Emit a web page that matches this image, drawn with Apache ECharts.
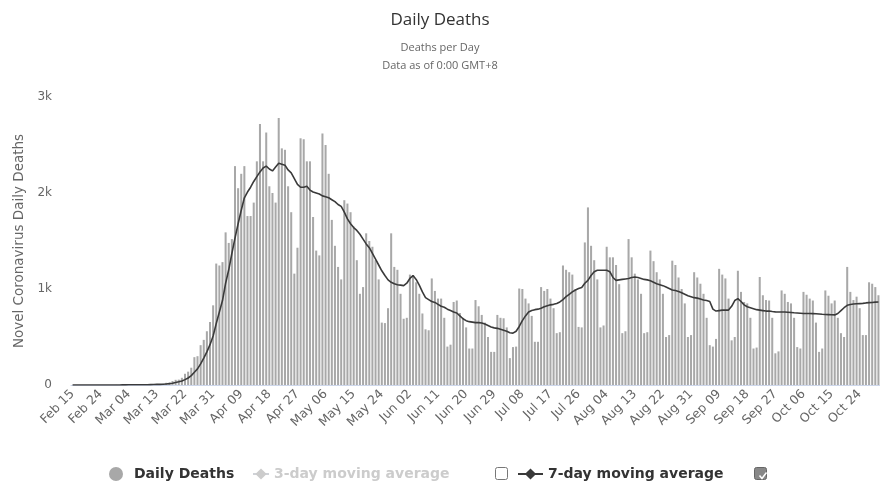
<!DOCTYPE html>
<html>
<head>
<meta charset="utf-8">
<title>Daily Deaths</title>
<script src="https://cdn.jsdelivr.net/npm/echarts@6/dist/echarts.min.js"></script>
<style>
  html, body { margin: 0; padding: 0; background: #fff; }
  #chart { width: 880px; height: 490px; }
</style>
</head>
<body>
<div id="chart"></div>
<script>
// daily deaths (Feb 15 -> Oct 30)
const febDeaths = [0, 0, 0, 0, 0, 0, 0, 0, 0, 0, 0, 0, 0, 0, 1];
const marDeaths = [0, 5, 1, 4, 1, 2, 3, 4, 4, 5, 8, 7, 11, 10, 12, 23, 26, 41, 54, 56, 75, 117, 139, 180, 290, 300, 415, 470, 560, 656, 830];
const aprDeaths = [1265, 1245, 1280, 1590, 1480, 1520, 2280, 2050, 2200, 2280, 1760, 1760, 1900, 2330, 2720, 2330, 2630, 2070, 2000, 1900, 2780, 2465, 2450, 2070, 1800, 1160, 1430, 2570, 2560, 2330];
const mayDeaths = [2330, 1750, 1400, 1350, 2620, 2500, 2200, 1720, 1450, 1230, 1100, 1925, 1890, 1800, 1650, 1300, 950, 1020, 1580, 1500, 1440, 1300, 1100, 650, 645, 800, 1580, 1230, 1200, 950, 690];
const junDeaths = [700, 1150, 1145, 1070, 950, 745, 580, 570, 1110, 980, 900, 900, 700, 400, 420, 865, 880, 750, 700, 600, 380, 380, 885, 820, 730, 650, 500, 345, 345, 730];
const julDeaths = [700, 695, 600, 280, 395, 400, 1005, 1000, 900, 850, 720, 450, 450, 1020, 980, 1000, 900, 800, 540, 550, 1245, 1200, 1175, 1150, 1000, 605, 600, 1485, 1850, 1450, 1300];
const augDeaths = [1100, 600, 620, 1440, 1330, 1330, 1250, 1050, 540, 560, 1520, 1330, 1160, 1100, 950, 540, 550, 1400, 1290, 1175, 1100, 950, 500, 520, 1295, 1250, 1120, 1000, 850, 500, 520];
const sepDeaths = [1175, 1120, 1055, 950, 700, 415, 400, 480, 1210, 1150, 1110, 900, 465, 500, 1190, 970, 865, 850, 700, 380, 390, 1125, 935, 885, 880, 700, 330, 350, 985, 950];
const octDeaths = [865, 850, 700, 395, 380, 970, 940, 900, 880, 650, 345, 380, 985, 930, 850, 880, 700, 540, 500, 1230, 970, 885, 920, 800, 520, 520, 1070, 1055, 1020, 935];

// 7-day moving average
const febAvg = [0, 0, 0, 0, 0, 0, 0, 0, 0, 0, 0, 0, 0, 0, 0];
const marAvg = [0, 1, 1, 2, 2, 2, 3, 3, 3, 3, 4, 5, 6, 7, 8, 11, 14, 19, 26, 33, 42, 56, 73, 98, 133, 168, 220, 280, 345, 420, 510];
const aprAvg = [640, 760, 880, 1060, 1200, 1370, 1530, 1680, 1820, 1950, 2010, 2060, 2120, 2170, 2220, 2260, 2280, 2250, 2230, 2270, 2310, 2300, 2290, 2240, 2210, 2150, 2090, 2060, 2060, 2070];
const mayAvg = [2030, 2010, 2000, 1990, 1970, 1960, 1950, 1930, 1910, 1880, 1860, 1800, 1730, 1680, 1640, 1610, 1570, 1520, 1470, 1430, 1370, 1310, 1250, 1190, 1140, 1095, 1070, 1055, 1045, 1040, 1035];
const junAvg = [1060, 1110, 1140, 1100, 1040, 970, 910, 890, 870, 860, 840, 820, 810, 790, 775, 760, 750, 720, 690, 670, 660, 655, 650, 650, 645, 635, 620, 605, 595, 590];
const julAvg = [580, 570, 560, 545, 540, 560, 610, 670, 720, 760, 775, 785, 790, 800, 815, 825, 835, 840, 850, 865, 890, 920, 945, 970, 990, 1005, 1015, 1060, 1090, 1140, 1180];
const augAvg = [1195, 1195, 1195, 1195, 1180, 1120, 1090, 1095, 1100, 1105, 1110, 1120, 1125, 1120, 1110, 1100, 1095, 1085, 1070, 1055, 1045, 1035, 1020, 1005, 990, 985, 975, 960, 945, 930, 920];
const sepAvg = [910, 905, 895, 885, 880, 870, 790, 770, 775, 780, 780, 780, 820, 880, 900, 870, 835, 815, 805, 795, 785, 780, 775, 770, 770, 765, 762, 760, 760, 760];
const octAvg = [758, 755, 752, 750, 748, 745, 745, 745, 744, 742, 740, 737, 735, 733, 731, 730, 745, 775, 805, 830, 838, 843, 846, 848, 850, 855, 858, 860, 863, 865];

const monthNames = ['Feb', 'Mar', 'Apr', 'May', 'Jun', 'Jul', 'Aug', 'Sep', 'Oct'];
const monthFirstDay = [15, 1, 1, 1, 1, 1, 1, 1, 1];
const yTicks = [0, 1000, 2000, 3000];

const dailyByMonth = [febDeaths, marDeaths, aprDeaths, mayDeaths, junDeaths, julDeaths, augDeaths, sepDeaths, octDeaths];
const avgByMonth = [febAvg, marAvg, aprAvg, mayAvg, junAvg, julAvg, augAvg, sepAvg, octAvg];

// category labels follow the month arrays: "Feb 15", "Mar 04", ...
const dates = [];
dailyByMonth.forEach((arr, m) => {
  arr.forEach((_, d) => {
    const day = monthFirstDay[m] + d;
    dates.push(monthNames[m] + ' ' + String(day).padStart(2, '0'));
  });
});
const dailyDeaths = [].concat(...dailyByMonth);
const avg7 = [].concat(...avgByMonth);

const chart = echarts.init(document.getElementById('chart'));

const legendText = { color: '#333', fontWeight: 'bold', fontSize: 14, fontFamily: 'DejaVu Sans' };

chart.setOption({
  animation: false,
  backgroundColor: '#fff',
  title: [
    {
      text: 'Daily Deaths',
      left: 'center',
      top: 7,
      textStyle: { fontFamily: 'Open Sans', fontSize: 17, fontWeight: 'normal', color: '#333' }
    },
    {
      text: 'Deaths per Day\nData as of 0:00 GMT+8',
      left: 'center',
      top: 34,
      textStyle: { fontFamily: 'Open Sans', fontSize: 11, fontWeight: 'normal', color: '#666', lineHeight: 18 }
    }
  ],
  legend: [
    {
      data: ['Daily Deaths'],
      left: 104, top: 462,
      itemWidth: 26, itemHeight: 14,
      icon: 'circle',
      textStyle: legendText
    },
    {
      data: ['3-day moving average'],
      left: 247, top: 462,
      itemWidth: 16, itemHeight: 14,
      inactiveColor: '#ccc',
      selected: { '3-day moving average': false },
      textStyle: legendText
    },
    {
      data: ['7-day moving average'],
      left: 512, top: 462,
      itemWidth: 25, itemHeight: 14,
      textStyle: legendText
    }
  ],
  graphic: [
    {
      type: 'rect',
      left: 495, top: 467,
      shape: { width: 12, height: 12, r: 2 },
      style: { fill: '#fff', stroke: '#777', lineWidth: 1 }
    },
    {
      type: 'rect',
      left: 754, top: 467,
      shape: { width: 12, height: 12, r: 2 },
      style: { fill: '#888', stroke: '#666', lineWidth: 1 }
    },
    {
      type: 'polyline',
      left: 757, top: 470,
      shape: { points: [[0, 3], [2.5, 6], [7, 0]] },
      style: { stroke: '#fff', lineWidth: 1.5, fill: null }
    }
  ],
  grid: { left: 71, right: 0, top: 97, bottom: 105 },
  xAxis: {
    type: 'category',
    data: dates,
    boundaryGap: true,
    axisLine: { lineStyle: { color: '#ccd6eb' } },
    axisTick: { show: false },
    axisLabel: {
      interval: 8,
      rotate: 45,
      margin: 7,
      color: '#666',
      fontFamily: 'DejaVu Sans',
      fontSize: 12.5
    },
    splitLine: { show: false }
  },
  yAxis: {
    type: 'value',
    min: yTicks[0],
    max: yTicks[yTicks.length - 1],
    interval: yTicks[1] - yTicks[0],
    name: 'Novel Coronavirus Daily Deaths',
    nameLocation: 'middle',
    nameGap: 45,
    nameTextStyle: { fontFamily: 'DejaVu Sans', fontSize: 13.5, color: '#666' },
    axisLine: { show: false },
    axisTick: { show: false },
    axisLabel: {
      margin: 19,
      color: '#666',
      fontFamily: 'DejaVu Sans',
      fontSize: 12,
      formatter: v => (v === 0 ? '0' : v / 1000 + 'k')
    },
    splitLine: { show: false }
  },
  series: [
    {
      name: 'Daily Deaths',
      type: 'bar',
      data: dailyDeaths,
      barCategoryGap: '35%',
      itemStyle: { color: '#a8a8a8' }
    },
    {
      name: '3-day moving average',
      type: 'line',
      data: [],
      symbol: 'diamond',
      symbolSize: 7,
      itemStyle: { color: '#999' },
      lineStyle: { color: '#999', width: 1.5 }
    },
    {
      name: '7-day moving average',
      type: 'line',
      data: avg7,
      symbol: 'diamond',
      symbolSize: 7,
      showSymbol: false,
      itemStyle: { color: '#3a3a3a' },
      lineStyle: { color: '#3a3a3a', width: 1.6 }
    }
  ]
});
</script>
</body>
</html>
